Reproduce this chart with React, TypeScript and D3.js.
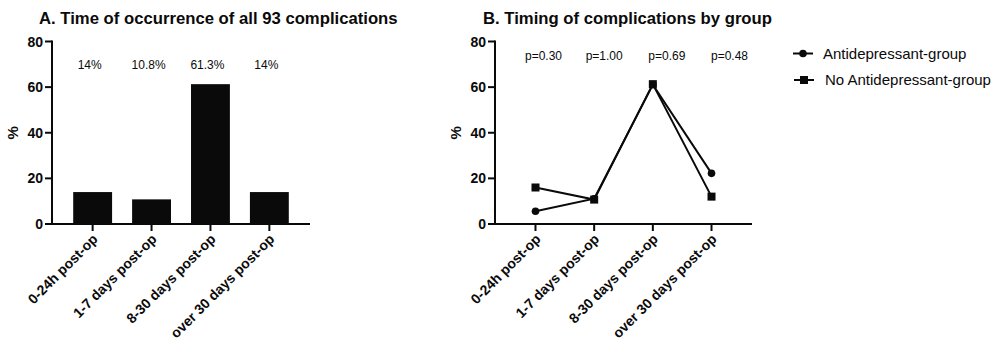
import React from 'react';
import * as d3 from 'd3';

// categories and values
const categories = ['0-24h post-op', '1-7 days post-op', '8-30 days post-op', 'over 30 days post-op'];
const allPct = [14, 10.8, 61.3, 14];
const allLabels = ['14%', '10.8%', '61.3%', '14%'];
const antiPct = [5.6, 11.1, 61.1, 22.2];
const noAntiPct = [16, 10.7, 61.3, 12];
const pValues = ['p=0.30', 'p=1.00', 'p=0.69', 'p=0.48'];
const yTicks = [0, 20, 40, 60, 80];
const seriesNames = ['Antidepressant-group', 'No Antidepressant-group'];

const FONT = '"Liberation Sans", Arial, Helvetica, sans-serif';
const INK = '#0a0a0a';

const y = d3.scaleLinear().domain([0, 80]).range([224, 41.5]);

const bandFor = (x0, x1) =>
  d3.scaleBand().domain(categories).range([x0, x1]).paddingInner(0.34).paddingOuter(0.36);

const Axes = ({ x, x0, x1 }) => {
  const bw = x.bandwidth();
  return (
    <g>
      <line x1={x0} x2={x0} y1={y(80) - 1} y2={y(0)} stroke={INK} strokeWidth={2} />
      <line x1={x0 - 7} x2={x1} y1={y(0)} y2={y(0)} stroke={INK} strokeWidth={2} />
      {yTicks.map(t => (
        <g key={t}>
          <line x1={x0 - 7} x2={x0} y1={y(t)} y2={y(t)} stroke={INK} strokeWidth={2} />
          <text x={x0 - 9} y={y(t)} dy="0.36em" textAnchor="end"
            fontFamily={FONT} fontSize={14} fontWeight="bold" fill={INK}>{t}</text>
        </g>
      ))}
      <text transform={`translate(${x0 - 39},${y(40)}) rotate(-90)`} textAnchor="middle" dy="0.36em"
        fontFamily={FONT} fontSize={15} fontWeight="bold" fill={INK}>%</text>
      {categories.map(c => {
        const cx = x(c) + bw / 2;
        return (
          <g key={c}>
            <line x1={cx} x2={cx} y1={y(0)} y2={y(0) + 7} stroke={INK} strokeWidth={2} />
            <text transform={`translate(${cx + 6},${y(0) + 16}) rotate(-45)`} textAnchor="end"
              fontFamily={FONT} fontSize={14} fontWeight="bold" fill={INK}>{c}</text>
          </g>
        );
      })}
    </g>
  );
};

const PanelA = () => {
  const x0 = 52, x1 = 310;
  const x = bandFor(x0, x1);
  const bw = x.bandwidth();
  return (
    <g>
      <text x={39} y={24} fontFamily={FONT} fontSize={16.7} fontWeight="bold" fill={INK}>
        A. Time of occurrence of all 93 complications
      </text>
      {categories.map((c, i) => (
        <rect key={c} x={x(c)} y={y(allPct[i])} width={bw} height={y(0) - y(allPct[i])} fill={INK} />
      ))}
      {categories.map((c, i) => (
        <text key={c} x={x(c) + bw / 2 - 3} y={69} textAnchor="middle"
          fontFamily={FONT} fontSize={12} fill={INK}>{allLabels[i]}</text>
      ))}
      <Axes x={x} x0={x0} x1={x1} />
    </g>
  );
};

const pOffsets = [8, 10, 14, 18];

const PanelB = () => {
  const x0 = 495, x1 = 752;
  const x = bandFor(x0, x1);
  const bw = x.bandwidth();
  const cx = c => x(c) + bw / 2;
  const line = d3.line().x(d => cx(d[0])).y(d => y(d[1]));
  const anti = categories.map((c, i) => [c, antiPct[i]]);
  const noAnti = categories.map((c, i) => [c, noAntiPct[i]]);
  const sq = 8;
  return (
    <g>
      <text x={483} y={24} fontFamily={FONT} fontSize={16.7} fontWeight="bold" fill={INK}>
        B. Timing of complications by group
      </text>
      {categories.map((c, i) => (
        <text key={c} x={cx(c) + pOffsets[i]} y={60} textAnchor="middle"
          fontFamily={FONT} fontSize={12} fill={INK}>{pValues[i]}</text>
      ))}
      <Axes x={x} x0={x0} x1={x1} />
      <path d={line(anti)} fill="none" stroke={INK} strokeWidth={2} />
      <path d={line(noAnti)} fill="none" stroke={INK} strokeWidth={2} />
      {anti.map(d => (
        <circle key={d[0]} cx={cx(d[0])} cy={y(d[1])} r={3.8} fill={INK} />
      ))}
      {noAnti.map(d => (
        <rect key={d[0]} x={cx(d[0]) - sq / 2} y={y(d[1]) - sq / 2} width={sq} height={sq} fill={INK} />
      ))}
      {/* legend */}
      <g>
        <line x1={793} x2={813} y1={53.5} y2={53.5} stroke={INK} strokeWidth={2} />
        <circle cx={803} cy={53.5} r={3.8} fill={INK} />
        <text x={823} y={53.5} dy="0.36em" fontFamily={FONT} fontSize={15} fill={INK}>{seriesNames[0]}</text>
        <line x1={794} x2={814} y1={80} y2={80} stroke={INK} strokeWidth={2} />
        <rect x={804 - sq / 2} y={80 - sq / 2} width={sq} height={sq} fill={INK} />
        <text x={825} y={80} dy="0.36em" fontFamily={FONT} fontSize={15} fill={INK}>{seriesNames[1]}</text>
      </g>
    </g>
  );
};

export default function App() {
  return (
    <svg width={1000} height={341} style={{ position: 'absolute', left: 0, top: 0, background: '#fff' }}>
      <rect width={1000} height={341} fill="#fff" />
      <PanelA />
      <PanelB />
    </svg>
  );
}
